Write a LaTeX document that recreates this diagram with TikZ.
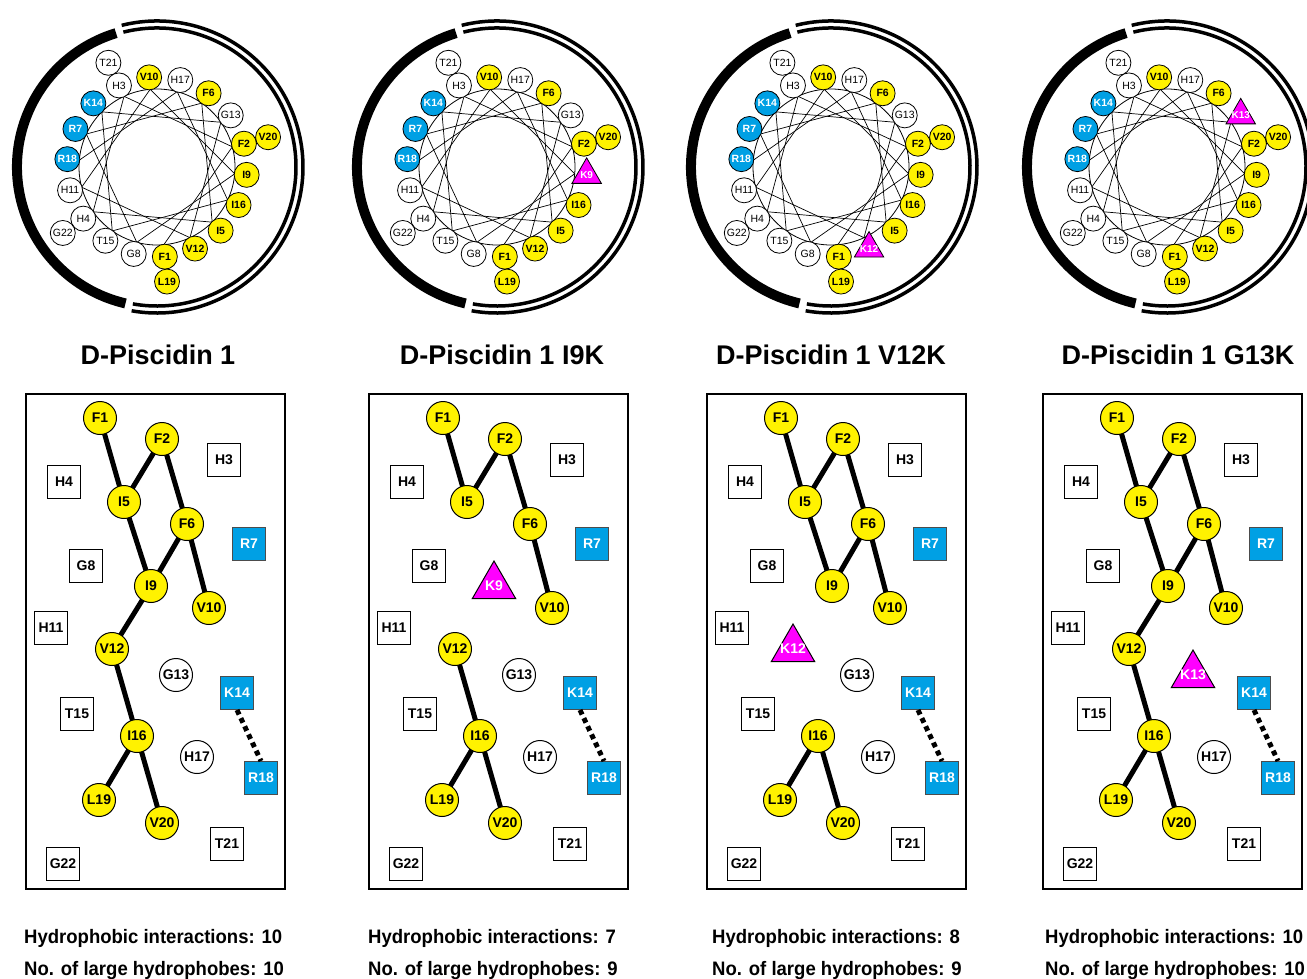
\documentclass[tikz,border=0pt]{standalone}
\usepackage{fontspec}
\setmainfont{Liberation Sans}
\usetikzlibrary{shapes.geometric,backgrounds}
\definecolor{pblue}{RGB}{0,160,228}
\definecolor{pmag}{RGB}{255,0,255}
% index/label/wheel style/net style/net x/net y
\newcommand\residuelist{1/F1/wy/ny/100/418, 2/F2/wy/ny/162/439, 3/H3/ww/ns/224/460,
  4/H4/ww/ns/64/482, 5/I5/wy/ny/124/502, 6/F6/wy/ny/187/524, 7/R7/wb/nb/249/544,
  8/G8/ww/ns/86/566, 9/I9/wy/ny/151/586, 10/V10/wy/ny/209/608, 11/H11/ww/ns/51/628,
  12/V12/wy/ny/112/649, 13/G13/ww/nw/176/675, 14/K14/wb/nb/237/693, 15/T15/ww/ns/77/714,
  16/I16/wy/ny/137/736, 17/H17/ww/nw/197/757, 18/R18/wb/nb/261/778, 19/L19/wy/ny/99/800,
  20/V20/wy/ny/162/823, 21/T21/ww/ns/227/844, 22/G22/ww/ns/63/864}
\tikzset{
  wres/.style={circle, draw, line width=0.8pt, minimum size=25pt, inner sep=0pt, font=\fontsize{10.5}{11}\selectfont},
  wy/.style={wres, fill=yellow, font=\fontsize{10.5}{11}\selectfont\bfseries},
  ww/.style={wres, fill=white},
  wb/.style={wres, fill=pblue, text=white, font=\fontsize{10.5}{11}\selectfont\bfseries},
  wmut/.style={regular polygon, regular polygon sides=3, draw, line width=0.8pt, fill=pmag, text=white,
    minimum size=34pt, inner sep=0pt, font=\fontsize{10}{11}\selectfont\bfseries},
  nres/.style={draw, line width=1pt, minimum size=33pt, inner sep=0pt, font=\fontsize{14}{15}\selectfont\bfseries},
  ny/.style={nres, circle, fill=yellow},
  nw/.style={nres, circle, fill=white},
  ns/.style={nres, rectangle, fill=white},
  nb/.style={nres, rectangle, fill=pblue, draw=black!70, text=white},
  nmut/.style={regular polygon, regular polygon sides=3, draw, line width=1pt, fill=pmag, text=white,
    minimum size=50pt, inner sep=0pt, font=\fontsize{14}{15}\selectfont\bfseries},
  chord/.style={line width=0.7pt},
  link/.style={line width=5pt},
  saltbr/.style={line width=5pt, dash pattern=on 5pt off 4pt},
  ttl/.style={anchor=base, font=\fontsize{27}{30}\selectfont\bfseries},
  stat/.style={anchor=base west, inner sep=0pt, font=\fontsize{19.5}{21}\selectfont\bfseries}
}
\begin{document}
\begin{tikzpicture}[x=1pt,y=-1pt]
\useasboundingbox (0,0) rectangle (1307,978);
\foreach \p/\wx/\nx/\mut/\ttl/\tx/\bx/\hi/\lh/\edges in {%
  1/0/0/0/D-Piscidin 1/158/24/10/10/{1/5,5/9,2/5,2/6,6/9,6/10,9/12,12/16,16/19,16/20},%
  2/340/343/9/D-Piscidin 1 I9K/502/368/7/9/{1/5,2/5,2/6,6/10,12/16,16/19,16/20},%
  3/674/681/12/D-Piscidin 1 V12K/831/712/8/9/{1/5,5/9,2/5,2/6,6/9,6/10,16/19,16/20},%
  4/1010/1017/13/D-Piscidin 1 G13K/1178/1045/10/10/{1/5,5/9,2/5,2/6,6/9,6/10,9/12,12/16,16/19,16/20}}
{
  % helical wheel
  \begin{scope}[shift={(157+\wx,167)}]
    \draw[line width=10pt] (-107:140) arc[start angle=-107, end angle=-257, radius=140];
    \draw[line width=3.5pt] (-104:146) arc[start angle=-104, end angle=100, radius=146];
    \draw[line width=3.5pt] (-104:139) arc[start angle=-104, end angle=100, radius=139];
    \draw[line width=0.8pt] (0,0) circle (78);
    \foreach \i in {1,...,18} {
      \pgfmathsetmacro\ang{85-(\i-1)*100}
      \coordinate (c\p-\i) at (\ang:78);
    }
    \foreach \i in {1,...,17} {
      \pgfmathtruncatemacro\j{\i+1}
      \draw[chord] (c\p-\i) -- (c\p-\j);
    }
    \foreach \i/\lab/\ws/\ns/\rx/\ry in \residuelist {
      \pgfmathsetmacro\ang{85-(\i-1)*100}
      \pgfmathsetmacro\rad{\i>18 ? 115 : 90}
      \ifnum\i=\mut
        \node[wmut] (w\p-\i) at (\ang:\rad) {\makebox[0pt]{K\i}};
      \else
        \node[\ws] (w\p-\i) at (\ang:\rad) {\lab};
      \fi
    }
  \end{scope}
  \node[ttl] (t\p) at (\tx,364) {\ttl};
  % helical net
  \begin{scope}[shift={(\nx,0)}]
    \draw[line width=2.5pt] (26,394) rectangle (285,889);
    \foreach \i/\lab/\ws/\ns/\rx/\ry in \residuelist {
      \ifnum\i=\mut
        \node[nmut] (n\p-\i) at (\rx,\ry) {\makebox[0pt]{K\i}};
      \else
        \node[\ns] (n\p-\i) at (\rx,\ry) {\lab};
      \fi
    }
    \begin{pgfonlayer}{background}
      \foreach \ea/\eb in \edges
        \draw[link] (n\p-\ea.center) -- (n\p-\eb.center);
    \end{pgfonlayer}
    \draw[saltbr] (n\p-14.south) -- (n\p-18.north);
  \end{scope}
  \node[stat] (hi\p) at (\bx,943) {\scalebox{0.95}[1]{Hydrophobic interactions: \hi}};
  \node[stat] (lh\p) at (\bx,975) {\scalebox{0.95}[1]{No. of large hydrophobes: \lh}};
}
\end{tikzpicture}
\end{document}
